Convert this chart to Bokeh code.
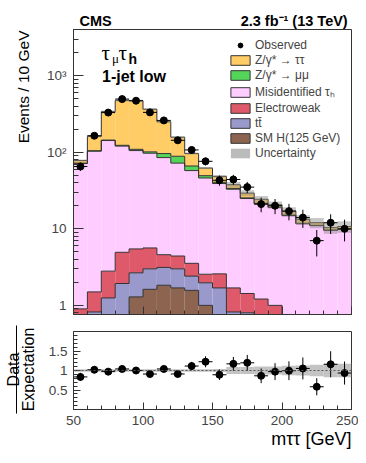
import numpy as np
from bokeh.plotting import figure
from bokeh.layouts import column, row
from bokeh.models import (Range1d, FixedTicker, CustomJSTickFormatter, Label, Legend,
                          LegendItem, ColumnDataSource, Span, Title)
from bokeh.core.properties import value
from bokeh.embed import file_html
from bokeh.resources import INLINE

# ---------------- data ----------------
bin_low = [50, 60, 70, 80, 90, 100, 110, 120, 130, 140,
           150, 160, 170, 180, 190, 200, 210, 220, 230, 240]
bin_width = 10
sm_higgs = [0.2, 0.3, 0.45, 0.6, 1.29, 1.62, 1.83, 1.69, 1.57, 1.0,
            0.6, 0.4, 0.3, 0.2, 0.15, 0.1, 0.08, 0.06, 0.05, 0.05]
ttbar = [0.35, 0.52, 0.8, 1.33, 1.37, 1.38, 1.3, 1.31, 0.84, 0.97,
         1.09, 0.42, 0.5, 0.55, 0.45, 0.3, 0.22, 0.19, 0.15, 0.15]
electroweak = [0.35, 0.68, 1.55, 3.0, 2.8, 2.62, 1.46, 1.41, 1.13, 0.58,
               0.89, 0.87, 0.63, 0.46, 0.4, 0.3, 0.3, 0.25, 0.25, 0.2]
misid_tau = [70.1, 101.5, 139.2, 115.1, 99.5, 91.4, 80.4, 67.6, 54.0, 43.5,
             36.4, 31.2, 23.4, 19.9, 17.9, 14.1, 11.0, 10.5, 9.1, 9.4]
z_mumu = [1.0, 1.5, 2.0, 3.0, 4.0, 4.0, 11.0, 16.5, 8.5, 3.3,
          1.5, 0.6, 0.5, 0.4, 0.3, 0.3, 0.2, 0.1, 0.1, 0.1]
z_tautau = [5.8, 56.5, 195.0, 352.0, 361.0, 263.0, 154.0, 68.5, 30.0, 12.7,
            7.8, 4.1, 3.9, 2.8, 1.4, 2.0, 1.5, 0.9, 0.7, 0.8]
observed = [65, 164, 329, 494, 470, 331, 260, 143, 107, 76,
            43, 44, 35, 21, 20, 17, 14, 7, 12, 10]
rel_uncertainty = [0.03, 0.03, 0.03, 0.03, 0.03, 0.03, 0.03, 0.03, 0.03, 0.03,
                   0.04, 0.09, 0.09, 0.1, 0.1, 0.12, 0.13, 0.15, 0.17, 0.17]

x_ticks = [50, 100, 150, 200, 250]
x_minor = [60, 70, 80, 90, 110, 120, 130, 140, 160, 170, 180, 190, 210, 220, 230, 240]
y_ticks = [1, 10, 100, 1000]
y_tick_labels = ["1", "10", "10\u00b2", "10\u00b3"]
y_minor = [0.8, 0.9, 2, 3, 4, 5, 6, 7, 8, 9, 20, 30, 40, 50, 60, 70, 80, 90,
           200, 300, 400, 500, 600, 700, 800, 900, 2000, 3000, 4000]
ratio_ticks = [0.5, 1, 1.5]
ratio_tick_labels = ["0.5", "1", "1.5"]
ratio_minor = [0.1, 0.2, 0.3, 0.4, 0.6, 0.7, 0.8, 0.9, 1.1, 1.2, 1.3, 1.4,
               1.6, 1.7, 1.8, 1.9]

layer_names = ["SM H(125 GeV)", "t\u0074\u0304", "Electroweak",
               "Misidentified \u03c4\u2095", "Z/\u03b3* \u2192 \u03bc\u03bc",
               "Z/\u03b3* \u2192 \u03c4\u03c4"]
layer_values = [sm_higgs, ttbar, electroweak, misid_tau, z_mumu, z_tautau]
layer_colors = ["#8c6450", "#9999cc", "#de5a6a", "#ffccff", "#55d45a", "#ffcc66"]

FONT = "Liberation Sans"
OUTLINE = "#333333"

# ---------------- derived ----------------
lo = np.array(bin_low, dtype=float)
hi = lo + bin_width
ctr = lo + bin_width / 2.0
edges = np.append(lo, hi[-1])
obs = np.array(observed, dtype=float)
obs_err = np.sqrt(obs)


def fmt(tick_vals, tick_labels):
    return CustomJSTickFormatter(args=dict(tv=tick_vals, tl=tick_labels), code="""
        for (let i = 0; i < tv.length; i++) {
            if (Math.abs(tick - tv[i]) < 1e-6 * Math.abs(tv[i]) + 1e-9) return tl[i];
        }
        return '';
    """)


def txt(f, x, y, s, size, font=FONT, style="normal", align="left", angle=0.0):
    f.text(x=[x], y=[y], text=[s], text_font=value(font), text_font_size=value(size),
           text_font_style=value(style), text_align=value(align),
           text_baseline=value("alphabetic"), angle=angle, text_color="black")


# ---------------- main panel ----------------
p1 = figure(width=323, height=322, x_range=Range1d(50, 250), y_range=Range1d(0.76, 4000),
            y_axis_type="log", output_backend="svg", toolbar_location=None,
            min_border_left=38, min_border_right=7, min_border_top=29, min_border_bottom=8)
p1.title = Title(text="CMS" + "\u00a0" * 32 + "2.3 fb\u207b\u00b9 (13 TeV)", align="left",
                 offset=6, standoff=1, vertical_align="bottom", text_font=FONT,
                 text_font_size="14.5px", text_font_style="bold", text_color="black")
p1.xgrid.visible = False
p1.ygrid.visible = False
p1.outline_line_color = OUTLINE
p1.outline_line_width = 1

cum = np.zeros(len(lo))
legend_proxies = {}
tops = []
for name, vals, col in zip(layer_names, layer_values, layer_colors):
    bottom = cum.copy()
    cum = cum + np.array(vals, dtype=float)
    src = ColumnDataSource(dict(left=lo, right=hi, bottom=np.maximum(bottom, 0.05), top=cum.copy()))
    p1.quad(left="left", right="right", bottom="bottom", top="top", source=src,
            fill_color=col, line_color=None)
    tops.append(cum.copy())
    # off-range proxy, only used to draw the legend swatch
    legend_proxies[name] = p1.quad(left=[0], right=[1], bottom=[1], top=[2], fill_color=col,
                                   line_color=OUTLINE, line_width=1)
for t in tops:
    p1.step(x=edges, y=np.append(t, t[-1]), mode="after", line_color=OUTLINE, line_width=1)

total = cum
unc = np.array(rel_uncertainty)
unc_src = ColumnDataSource(dict(left=lo, right=hi, bottom=total * (1 - unc), top=total * (1 + unc)))
p1.quad(left="left", right="right", bottom="bottom", top="top", source=unc_src,
        fill_color="#888888", fill_alpha=0.45, line_color=None)
unc_proxy = p1.quad(left=[0], right=[1], bottom=[1], top=[2], fill_color="#bbbbbb", line_color=None)

p1.segment(x0=ctr, x1=ctr, y0=obs - obs_err, y1=obs + obs_err, line_color="black", line_width=1)
p1.segment(x0=lo, x1=hi, y0=obs, y1=obs, line_color="black", line_width=1)
data_r = p1.scatter(x=ctr, y=obs, size=7, marker="circle", fill_color="black", line_color="black")

p1.xaxis.ticker = FixedTicker(ticks=x_ticks, minor_ticks=x_minor)
p1.yaxis.ticker = FixedTicker(ticks=y_ticks, minor_ticks=y_minor)
p1.yaxis.formatter = fmt(y_ticks, y_tick_labels)
p1.xaxis.major_label_text_font_size = "0px"
p1.xaxis.major_label_standoff = 0
for ax in [p1.xaxis[0], p1.yaxis[0]]:
    ax.major_tick_out = 0
    ax.minor_tick_out = 0
    ax.axis_line_color = OUTLINE
    ax.major_tick_line_color = OUTLINE
    ax.minor_tick_line_color = OUTLINE
    ax.major_label_text_font = FONT
p1.yaxis.major_tick_in = 10
p1.yaxis.minor_tick_in = 5
p1.xaxis.major_tick_in = 8
p1.xaxis.minor_tick_in = 4
p1.yaxis.major_label_text_font_size = "13.5px"
p1.yaxis.major_label_standoff = 7

items = [LegendItem(label="Observed", renderers=[data_r])]
for name in reversed(layer_names):
    items.append(LegendItem(label=name, renderers=[legend_proxies[name]]))
items.append(LegendItem(label="Uncertainty", renderers=[unc_proxy]))
legend = Legend(items=items, location=(155, 154), padding=0, margin=0, spacing=1,
                glyph_width=24, glyph_height=12, label_height=14, label_standoff=3,
                label_text_font=FONT, label_text_font_size="12px",
                border_line_color=None, background_fill_alpha=0)
p1.add_layout(legend)


def lab(p, text, x, y, size, font=FONT, style="normal"):
    p.add_layout(Label(x=x, y=y, x_units="screen", y_units="screen", text=text,
                       text_font=font, text_font_size=size, text_font_style=style,
                       text_align="left", text_baseline="alphabetic", text_color="black"))


lab(p1, "\u03c4", 28, 262, "21px", font="Liberation Serif")
lab(p1, "\u03bc", 38.5, 256, "13px", font="Liberation Serif")
lab(p1, "\u03c4", 45, 262, "21px", font="Liberation Serif")
lab(p1, "h", 55, 255.5, "14px", style="bold")
lab(p1, "1-jet low", 28.5, 238, "16px", style="bold")

# ---------------- ratio panel ----------------
p2 = figure(width=323, height=141, x_range=p1.x_range, y_range=Range1d(0, 2),
            output_backend="svg", toolbar_location=None,
            min_border_left=38, min_border_right=7, min_border_top=9, min_border_bottom=54)
p2.title = Title(text="m\u03c4\u03c4 [GeV]", align="right", offset=0, standoff=2,
                 vertical_align="top", text_font=FONT, text_font_size="18px",
                 text_font_style="normal", text_color="black")
p2.title_location = "below"
p2.xgrid.visible = False
p2.ygrid.visible = False
p2.outline_line_color = OUTLINE
p2.outline_line_width = 1

r_src = ColumnDataSource(dict(left=lo, right=hi, bottom=1 - unc, top=1 + unc))
p2.quad(left="left", right="right", bottom="bottom", top="top", source=r_src,
        fill_color="#b4b4b4", fill_alpha=0.8, line_color=None)
p2.add_layout(Span(location=1, dimension="width", line_color="#555555", line_dash="2 2", line_width=1))
ratio = obs / total
ratio_err = obs_err / total
p2.segment(x0=ctr, x1=ctr, y0=ratio - ratio_err, y1=ratio + ratio_err, line_color="black", line_width=1)
p2.segment(x0=lo, x1=hi, y0=ratio, y1=ratio, line_color="black", line_width=1)
p2.scatter(x=ctr, y=ratio, size=7, marker="circle", fill_color="black", line_color="black")

p2.xaxis.ticker = FixedTicker(ticks=x_ticks, minor_ticks=x_minor)
p2.yaxis.ticker = FixedTicker(ticks=ratio_ticks, minor_ticks=ratio_minor)
p2.yaxis.formatter = fmt(ratio_ticks, ratio_tick_labels)
for ax in [p2.xaxis[0], p2.yaxis[0]]:
    ax.major_tick_out = 0
    ax.minor_tick_out = 0
    ax.axis_line_color = OUTLINE
    ax.major_tick_line_color = OUTLINE
    ax.minor_tick_line_color = OUTLINE
    ax.major_label_text_font = FONT
p2.yaxis.major_tick_in = 7
p2.yaxis.minor_tick_in = 4
p2.xaxis.major_tick_in = 7
p2.xaxis.minor_tick_in = 4
p2.yaxis.major_label_text_font_size = "13.5px"
p2.yaxis.major_label_standoff = 6
p2.xaxis.major_label_text_font_size = "13.5px"
p2.xaxis.major_label_standoff = 6

# ---------------- left strip with the y titles ----------------
left = figure(width=35, height=463, x_range=Range1d(0, 35), y_range=Range1d(0, 463),
              x_axis_location=None, y_axis_location=None, output_backend="svg",
              toolbar_location=None, min_border=0)
left.xgrid.visible = False
left.ygrid.visible = False
left.outline_line_color = None
txt(left, 23, 433, "Events / 10 GeV", "15.5px", align="right", angle=np.pi / 2)
txt(left, 13, 94, "Data", "16px", align="center", angle=np.pi / 2)
txt(left, 27.5, 94, "Expectation", "16px", align="center", angle=np.pi / 2)
left.segment(x0=[16], x1=[16], y0=[50], y1=[138], line_color="black", line_width=1)

layout = row(left, column(p1, p2, spacing=0), spacing=0)
open("out.html", "w").write(file_html(layout, INLINE))
